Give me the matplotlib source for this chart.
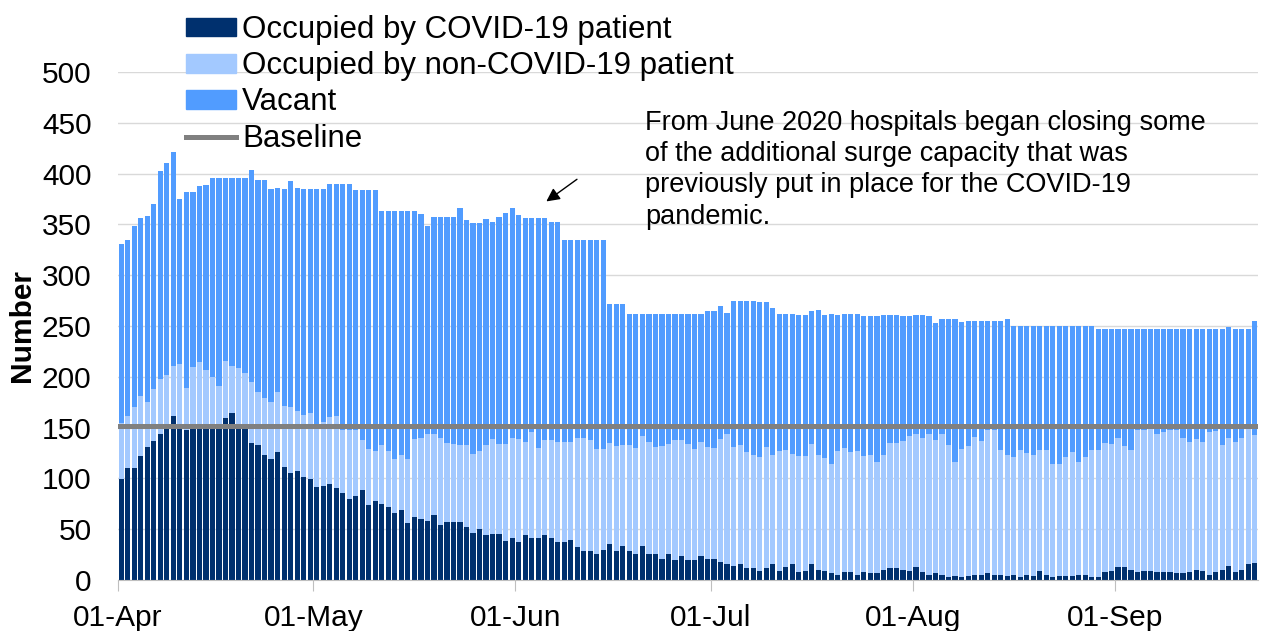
import numpy as np
import pandas as pd
import matplotlib
matplotlib.use("Agg")
import matplotlib.pyplot as plt
from matplotlib.patches import Patch
from matplotlib.lines import Line2D

# daily values, 01-Apr-2020 onwards
covid = [99, 110, 110, 122, 131, 137, 144, 152, 161, 154,
         148, 152, 153, 152, 152, 150, 159, 164, 152, 150,
         135, 133, 123, 119, 126, 111, 105, 107, 101, 99,
         92, 93, 94, 91, 86, 80, 83, 89, 74, 78,
         75, 72, 66, 69, 56, 62, 60, 58, 64, 54,
         57, 57, 57, 52, 46, 50, 44, 45, 45, 38,
         41, 37, 44, 41, 41, 44, 41, 37, 37, 39,
         32, 29, 29, 26, 30, 35, 29, 33, 29, 26,
         33, 26, 26, 21, 26, 20, 24, 20, 20, 24,
         21, 21, 18, 16, 14, 16, 12, 12, 9, 12,
         16, 9, 13, 16, 8, 9, 16, 10, 9, 7,
         5, 8, 8, 5, 8, 7, 7, 10, 12, 12,
         10, 9, 13, 8, 5, 7, 5, 3, 4, 3,
         4, 5, 5, 7, 5, 5, 4, 5, 3, 5,
         4, 9, 5, 3, 4, 4, 4, 5, 5, 3,
         3, 8, 9, 13, 13, 10, 8, 9, 9, 8,
         8, 8, 7, 7, 8, 10, 9, 5, 8, 10,
         14, 8, 10, 16, 17]

# all occupied beds (COVID + non-COVID)
occupied = [155, 161, 170, 181, 175, 188, 198, 202, 211, 213,
            189, 210, 215, 207, 200, 191, 216, 211, 209, 204,
            195, 185, 179, 175, 185, 171, 170, 166, 162, 164,
            154, 156, 160, 161, 148, 148, 148, 138, 129, 127,
            133, 127, 119, 123, 119, 139, 140, 144, 144, 140,
            135, 134, 133, 133, 124, 127, 133, 139, 134, 134,
            140, 139, 136, 146, 130, 138, 138, 136, 136, 136,
            140, 140, 138, 129, 129, 135, 132, 133, 133, 130,
            142, 136, 131, 132, 134, 138, 138, 134, 129, 136,
            131, 130, 139, 144, 131, 133, 126, 123, 121, 131,
            123, 127, 128, 124, 122, 122, 134, 123, 120, 114,
            127, 130, 126, 127, 122, 123, 116, 123, 135, 135,
            137, 142, 144, 140, 144, 138, 144, 133, 116, 129,
            132, 141, 137, 148, 148, 128, 123, 121, 128, 125,
            123, 128, 128, 114, 114, 121, 126, 116, 121, 128,
            128, 135, 134, 140, 132, 128, 148, 148, 149, 144,
            146, 148, 148, 140, 136, 139, 136, 146, 147, 133,
            140, 136, 140, 149, 143]

# total beds available
beds = [331, 335, 348, 356, 358, 370, 403, 410, 421, 375,
        382, 382, 388, 389, 396, 396, 396, 396, 396, 396,
        404, 394, 394, 385, 386, 385, 393, 386, 385, 385,
        385, 385, 390, 390, 390, 390, 384, 384, 384, 384,
        363, 363, 363, 363, 363, 363, 360, 348, 357, 357,
        357, 357, 366, 354, 351, 351, 355, 352, 357, 361,
        366, 359, 356, 356, 356, 356, 352, 352, 335, 335,
        335, 335, 335, 335, 335, 272, 272, 272, 262, 262,
        262, 262, 262, 262, 262, 262, 262, 262, 262, 262,
        265, 265, 270, 263, 275, 275, 275, 275, 274, 274,
        268, 262, 262, 262, 261, 261, 265, 266, 261, 262,
        261, 262, 262, 262, 260, 260, 260, 261, 261, 261,
        260, 260, 261, 261, 260, 253, 257, 257, 257, 254,
        255, 255, 255, 255, 255, 255, 257, 250, 250, 250,
        250, 250, 250, 250, 250, 250, 250, 250, 250, 250,
        247, 247, 247, 247, 247, 247, 247, 247, 247, 247,
        247, 247, 247, 247, 247, 247, 247, 247, 247, 247,
        249, 247, 247, 247, 255]

baseline = 152
start_date = "2020-04-01"

note = ("From June 2020 hospitals began closing some\n"
        "of the additional surge capacity that was\n"
        "previously put in place for the COVID-19\n"
        "pandemic.")

c_covid = "#00306e"
c_noncovid = "#a3c9ff"
c_vacant = "#519cff"
c_base = "#808080"

plt.rcParams["font.family"] = ["Liberation Sans", "DejaVu Sans"]

covid_a = np.array(covid)
non_covid = np.array(occupied) - covid_a
vacant = np.array(beds) - np.array(occupied)
dates = pd.date_range(start_date, periods=len(covid))
x = np.arange(len(dates))

fig = plt.figure(figsize=(12.61, 6.31), dpi=100)
ax = fig.add_axes([118 / 1261, 1 - 580 / 631, 1140 / 1261, 508 / 631])

w = 0.8
ax.bar(x, covid_a, width=w, color=c_covid, zorder=2)
ax.bar(x, non_covid, width=w, bottom=covid_a, color=c_noncovid, zorder=2)
ax.bar(x, vacant, width=w, bottom=covid_a + non_covid, color=c_vacant, zorder=2)
ax.axhline(baseline, color=c_base, lw=3.6, zorder=3)

ax.set_xlim(-0.5, len(x) - 0.5)
ax.set_ylim(0, 500)
ax.set_yticks(range(0, 501, 50))
ax.yaxis.grid(True, color="#d9d9d9", lw=1)
ax.set_axisbelow(True)

month_start = x[dates.day == 1]
ax.set_xticks(month_start - 0.5)
ax.set_xticklabels(dates[dates.day == 1].strftime("%d-%b"))

for s in ["top", "right", "left"]:
    ax.spines[s].set_visible(False)
ax.spines["bottom"].set_color("#bfbfbf")
ax.tick_params(axis="y", length=0, pad=19, labelsize=21.5)
ax.tick_params(axis="x", length=8, color="#bfbfbf", pad=9, labelsize=21.5)

ax.set_ylabel("Number", fontsize=21.5, fontweight="bold")
ax.yaxis.set_label_coords(-0.072, 0.5)

# arrow pointing at the June capacity step-down
ax.annotate("", xy=(64.9, 371), xytext=(70.3, 396),
            arrowprops=dict(arrowstyle="-|>", color="black", lw=1,
                            mutation_scale=20))
fig.text(645 / 1261, 1 - 110 / 631, note, ha="left", va="top",
         fontsize=19.5, linespacing=1.26)

handles = [Patch(color=c_covid), Patch(color=c_noncovid),
           Patch(color=c_vacant), Line2D([], [], color=c_base, lw=3.6)]
labels = ["Occupied by COVID-19 patient", "Occupied by non-COVID-19 patient",
          "Vacant", "Baseline"]
fig.legend(handles, labels, loc="upper left",
           bbox_to_anchor=(186 / 1261, 1 - 15 / 631), frameon=False,
           fontsize=22.5, borderpad=0, borderaxespad=0, labelspacing=0.2,
           handlelength=1.6, handleheight=0.55, handletextpad=0.2)

fig.savefig("out.png", dpi=100)
